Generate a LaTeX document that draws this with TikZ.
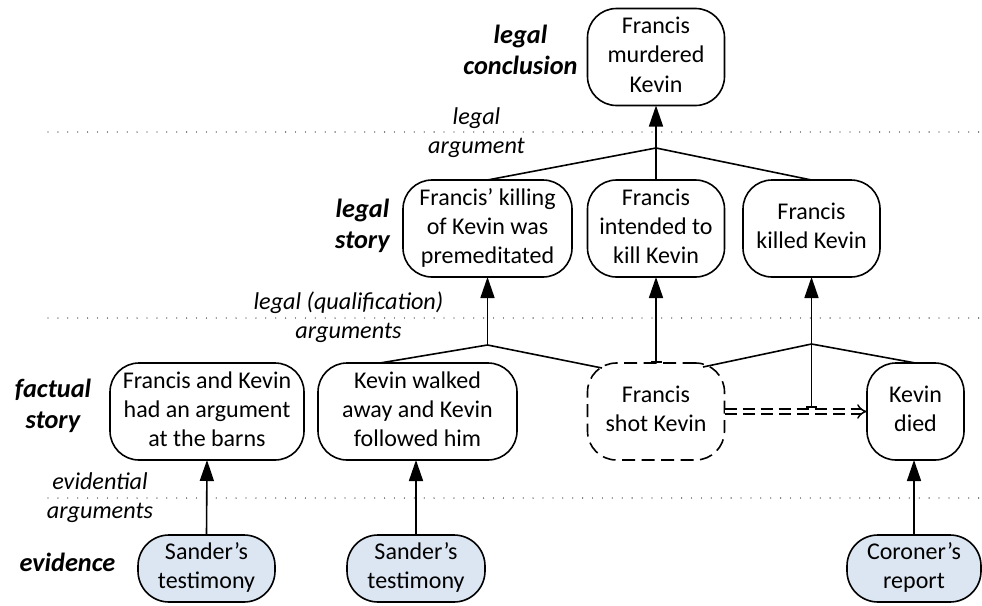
\documentclass[tikz,border=0pt]{standalone}
\usepackage{fontspec}
\setmainfont{Carlito}
\usetikzlibrary{arrows.meta}
\definecolor{evfill}{RGB}{220,230,242}
\newcommand\bxfont{\fontsize{24}{29.2}\selectfont}
\newcommand\lbfont{\fontsize{26.3}{31}\selectfont\bfseries\itshape}
\newcommand\agfont{\fontsize{24.2}{28.5}\selectfont\itshape}
\begin{document}
\begin{tikzpicture}[x=1pt,y=-1pt,
  every node/.style={inner sep=0pt, outer sep=0pt},
  box/.style={draw, line width=1.6pt, rounded corners=29pt, align=center, font=\bxfont, minimum height=97pt},
  dashbox/.style={dash pattern=on 13pt off 6.5pt},
  evid/.style={draw, line width=1.6pt, rounded corners=31pt, fill=evfill, align=center, font=\bxfont, minimum height=67pt},
  lbl/.style={align=center, font=\lbfont},
  argl/.style={align=center, font=\agfont},
  conn/.style={line width=1.6pt},
  arr/.style={line width=1.6pt, -{Triangle[length=21pt,width=14pt]}},
  barr/.style={line width=1.6pt, {Bar[width=11pt]}-{Triangle[length=21pt,width=14pt]}},
  causal/.style={line width=1.5pt, double, double distance=3.4pt, dash pattern=on 12pt off 6pt, -{Implies}},
  dotline/.style={line width=1.3pt, line cap=round, dash pattern=on 0pt off 9.9pt, color=black!85}
]
\useasboundingbox (0,0) rectangle (982,605);

% layer separators
\draw[dotline] (48,132) -- (982,132);
\draw[dotline] (48,318) -- (982,318);
\draw[dotline] (48,498) -- (982,498);

% nodes
\node[box, minimum width=137pt] (ct) at (656,57) {\strut Francis\\murdered\\Kevin\strut};
\node[box, minimum width=169pt] (ls1) at (487.5,228.5) {\strut Francis’ killing\\of Kevin was\\premeditated\strut};
\node[box, minimum width=137pt] (ls2) at (656,228.5) {\strut Francis\\intended to\\kill Kevin\strut};
\node[box, minimum width=137pt] (ls3) at (811.5,228.5) {\strut Francis\\killed Kevin\strut};
\node[box, minimum width=194pt] (fs1) at (207,411.5) {\strut Francis and Kevin\\had an argument\\at the barns\strut};
\node[box, minimum width=199pt] (fs2) at (417.5,411.5) {\strut Kevin walked\\away and Kevin\\followed him\strut};
\node[box, dashbox, minimum width=137pt] (fs3) at (656,411.5) {\strut Francis\\shot Kevin\strut};
\node[box, minimum width=97pt] (fs4) at (915.5,411.5) {\strut Kevin\\died\strut};
\node[evid, minimum width=137pt] (ev1) at (206.5,568.5) {\strut Sander’s\\testimony\strut};
\node[evid, minimum width=138pt] (ev2) at (416,568.5) {\strut Sander’s\\testimony\strut};
\node[evid, minimum width=134pt] (ev3) at (914,568.5) {\strut Coroner’s\\report\strut};

% labels
\node[lbl] (lc) at (520.5,52.3) {\strut legal\\conclusion\strut};
\node[lbl] (lst) at (362.5,226.3) {\strut legal\\story\strut};
\node[lbl] (fst) at (53,406.3) {\strut factual\\story\strut};
\node[lbl, anchor=base] (evl) at (67.5,571.7) {evidence};
\node[argl] (la) at (476.5,133.5) {\strut legal\\argument\strut};
\node[argl] (lqa) at (348.5,318.5) {\strut legal (qualification)\\arguments\strut};
\node[argl] (ea) at (100,498.5) {\strut evidential\\arguments\strut};

% junctions
\coordinate (j1) at (656,148);
\coordinate (j2) at (487.5,345);
\coordinate (j3) at (811.5,344);
\coordinate (ctop) at (811.5,407.5);

% connectors
\draw[arr] (ls2.north) -- (ct.south);
\draw[conn] (ls1.north) -- (j1) -- (ls3.north);

\draw[arr] (j2) -- (ls1.south);
\draw[conn] ([xshift=-37.5pt]fs2.north) -- (j2) -- ([shift={(-54,5)}]fs3.north);

\draw[barr] (fs3.north) -- (ls2.south);

\draw[causal] (fs3.east) -- (fs4.west);
\draw[arr] (j3) -- (ls3.south);
\draw[conn] ([shift={(47,4)}]fs3.north) -- (j3) -- (fs4.north);
\draw[conn, -{Bar[width=11pt]}] (j3) -- (ctop);

\draw[arr] (ev1.north) -- (fs1.south);
\draw[arr] (ev2.north) -- (ev2.north |- fs2.south);
\draw[arr] (ev3.north) -- (ev3.north |- fs4.south);
\end{tikzpicture}
\end{document}
